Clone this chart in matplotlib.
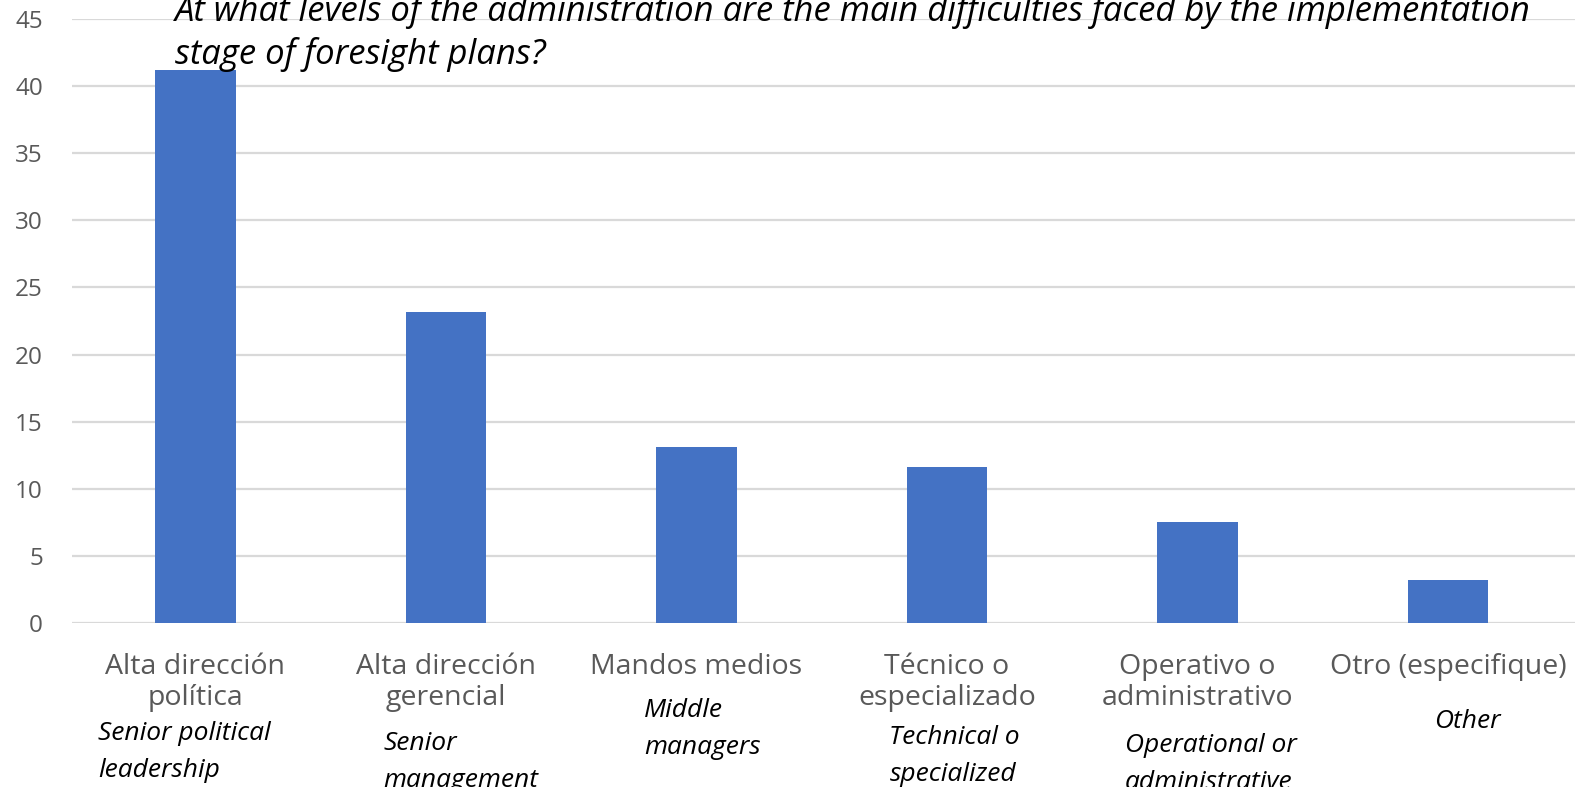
from matplotlib import pyplot as plt
from matplotlib import transforms

# survey results: levels of administration with main difficulties
levels_es = ['Alta dirección\npolítica', 'Alta dirección\ngerencial', 'Mandos medios',
             'Técnico o\nespecializado', 'Operativo o\nadministrativo', 'Otro (especifique)']
levels_en = ['Senior political\nleadership', 'Senior\nmanagement', 'Middle\nmanagers',
             'Technical o\nspecialized', 'Operational or\nadministrative', 'Other']
percent = [41.2, 23.2, 13.1, 11.6, 7.5, 3.2]
y_ticks = [0, 5, 10, 15, 20, 25, 30, 35, 40, 45]

title = ('At what levels of the administration are the main difficulties faced by the implementation\n'
         'stage of foresight plans?')

# layout for the english labels (x offset from bar centre, y centre in pixels from top)
en_dx = [-0.39, -0.25, -0.21, -0.23, -0.29, -0.055]
en_y = [752, 762, 729, 756, 764, 722]

plt.rcParams['font.family'] = ['Open Sans', 'DejaVu Sans']

W, H = 1575, 787
fig = plt.figure(figsize=(W / 100, H / 100), dpi=100)
ax = fig.add_axes([72 / W, (H - 623) / H, 1503 / W, 604 / H])

x = list(range(len(percent)))
ax.bar(x, percent, width=0.32, color='#4472C4', zorder=3)

ax.set_ylim(0, 45)
ax.set_xlim(-0.493, 5.507)
ax.set_yticks(y_ticks)
ax.yaxis.grid(True, color='#d9d9d9', linewidth=1.6, zorder=0)
ax.set_axisbelow(True)
for s in ax.spines.values():
    s.set_visible(False)
ax.tick_params(axis='y', length=0, pad=21, labelsize=17.5, labelcolor='#595959')
ax.tick_params(axis='x', length=0, pad=21.5, labelsize=20.5, labelcolor='#595959')
ax.set_xticks(x)
ax.set_xticklabels(levels_es, linespacing=1.15)

# x in data units, y in figure fraction
trans = transforms.blended_transform_factory(ax.transData, fig.transFigure)
for i, lab in enumerate(levels_en):
    ax.text(i + en_dx[i], 1 - en_y[i] / H, lab, transform=trans,
            ha='left', va='center', fontsize=19, style='italic', color='black', linespacing=1.6)

fig.text(175 / W, 1 - 33 / H, title, ha='left', va='center', fontsize=24.9,
         style='italic', color='black', linespacing=1.33)

fig.savefig('out.png', dpi=100)
